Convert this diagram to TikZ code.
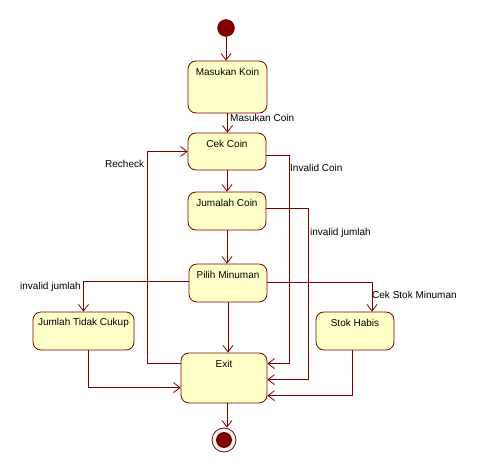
\documentclass[tikz,border=0pt]{standalone}
\usepackage{fontspec}
\setmainfont{Liberation Sans}
\usetikzlibrary{arrows.meta,calc}
\definecolor{umlline}{RGB}{128,0,0}
\definecolor{umlfill}{RGB}{255,255,200}
\definecolor{umldot}{RGB}{128,0,0}
\tikzset{
  statebox/.style={draw=umlline, fill=umlfill, rounded corners=8pt, line width=0.8pt, inner sep=0pt},
  arr/.style={draw=umlline, line width=0.8pt, -{Straight Barb[length=6.5pt,width=10pt,line width=0.8pt]}},
  lbl/.style={anchor=west, inner sep=0pt, font=\fontsize{10}{12}\selectfont},
  intext/.style={anchor=center, yshift=-11.5pt, inner sep=0pt, font=\fontsize{10}{12}\selectfont}
}
\begin{document}
\begin{tikzpicture}[x=1pt,y=-1pt]
\useasboundingbox (0,0) rectangle (477,473);
% nodes
\node[circle, fill=umldot, draw=umlline, minimum size=17pt, inner sep=0pt] (init) at (226,28) {};
\node[statebox, minimum width=79pt, minimum height=52pt, label={[intext]north:Masukan Koin}] (mk) at (227.5,87) {};
\node[statebox, minimum width=78pt, minimum height=37pt, label={[intext]north:Cek Coin}] (cek) at (227,151.5) {};
\node[statebox, minimum width=78pt, minimum height=38pt, label={[intext]north:Jumalah Coin}] (jum) at (227,211) {};
\node[statebox, minimum width=78pt, minimum height=38pt, label={[intext]north:Pilih Minuman}] (pilih) at (228,283) {};
\node[statebox, minimum width=101pt, minimum height=38pt, label={[intext]north:Jumlah Tidak Cukup}] (jtc) at (83.5,331) {};
\node[statebox, minimum width=78pt, minimum height=38pt, label={[intext]north:Stok Habis}] (stok) at (355,331) {};
\node[statebox, minimum width=86pt, minimum height=50pt, label={[intext]north:Exit}] (exit) at (224,378) {};
\node[circle, draw=umlline, line width=0.8pt, minimum size=24pt, inner sep=0pt] (final) at (224,440) {};
\node[circle, fill=umldot, minimum size=16pt, inner sep=0pt] (finaldot) at (final) {};
% connectors
\draw[arr] (init) -- (init |- mk.north);
\draw[arr] (mk.south) -- (mk.south |- cek.north);
\draw[arr] (cek.south) -- (cek.south |- jum.north);
\draw[arr] (jum.south) -- (jum.south |- pilih.north);
\draw[arr] (pilih.south) -- (pilih.south |- exit.north);
\draw[arr] ([yshift=-11pt]exit.north west) -- ++(-33,0) |- (cek.west);
\draw[arr] ([yshift=-4pt]cek.east) -- ++(23,0) |- ([yshift=-11pt]exit.north east);
\draw[arr] ([yshift=3pt]jum.east) -- ++(42,0) |- ([yshift=-27pt]exit.north east);
\draw[arr] ([xshift=-3pt]stok.south) |- ([yshift=-43pt]exit.north east);
\draw[arr] ([yshift=2pt]pilih.west) -| (jtc.north);
\draw[arr] ([yshift=1pt]pilih.east) -| ([xshift=17pt]stok.north);
\draw[arr] ([xshift=4.5pt]jtc.south) |- ([yshift=-35pt]exit.north west);
\draw[arr] ([xshift=3pt]exit.south) -- ([xshift=3pt]exit.south |- final.north);
% labels
\node[lbl] (l1) at (230,118) {Masukan Coin};
\node[lbl] (l2) at (105,164) {Recheck};
\node[lbl] (l3) at (290,168) {Invalid Coin};
\node[lbl] (l4) at (310,233) {invalid jumlah};
\node[lbl] (l5) at (20,287) {invalid jumlah};
\node[lbl] (l6) at (372,295) {Cek Stok Minuman};
\end{tikzpicture}
\end{document}
